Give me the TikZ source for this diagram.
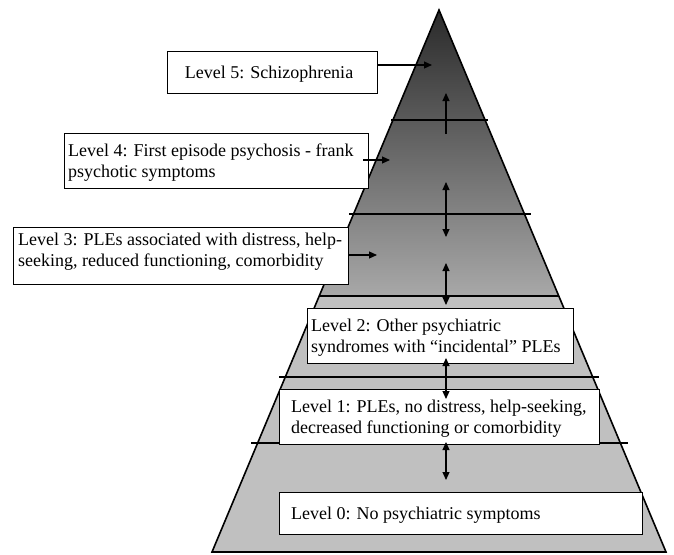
\documentclass[tikz,border=0pt]{standalone}
\usepackage{fontspec}
\setmainfont{Liberation Serif}
\usetikzlibrary{arrows.meta,calc}
\definecolor{topgray}{HTML}{2A2A2A}
\definecolor{midgray}{HTML}{A8A8A8}
\definecolor{basegray}{HTML}{C0C0C0}
\begin{document}
\begin{tikzpicture}[x=1pt,y=-1pt,
  lvbox/.style={draw=black,line width=1.1pt,fill=white,inner sep=0pt,anchor=north west},
  lvtext/.style={anchor=base west,align=left,inner sep=0pt,font=\fontsize{18}{20.5}\selectfont},
  arr/.style={line width=1.1pt,-{Triangle[length=8pt,width=7pt]}},
  darr/.style={line width=1.1pt,{Triangle[length=8pt,width=7pt]}-{Triangle[length=8pt,width=7pt]}},
  sepline/.style={line width=1.1pt}]
\useasboundingbox (0,0) rectangle (674,554);
% pyramid
\coordinate (apex) at (439,10);
\coordinate (bl) at (212,552);
\coordinate (br) at (666,552);
\coordinate (ml) at ($(apex)!0.5277!(bl)$);
\coordinate (mr) at ($(apex)!0.5277!(br)$);
\shade[top color=topgray, bottom color=midgray] (apex) -- (ml) -- (mr) -- cycle;
\fill[basegray] (ml) -- (bl) -- (br) -- (mr) -- cycle;
% separators
\coordinate (s1a) at (391,120); \coordinate (s1b) at (488,120);
\coordinate (s2a) at (349,214); \coordinate (s2b) at (531,214);
\coordinate (s4a) at (279,377); \coordinate (s4b) at (599,377);
\coordinate (s5a) at (251,443); \coordinate (s5b) at (628,443);
\draw[sepline] (s1a) -- (s1b);
\draw[sepline] (s2a) -- (s2b);
\draw[sepline] (ml) -- (mr);
\draw[sepline] (s4a) -- (s4b);
\draw[sepline] (s5a) -- (s5b);
\draw[line width=1.6pt,line join=miter] (apex) -- (bl) -- (br) -- cycle;
% boxes
\node[lvbox,minimum width=210pt,minimum height=42pt] (l5) at (167,51) {};
\node[lvbox,minimum width=304pt,minimum height=55pt] (l4) at (64,133) {};
\node[lvbox,minimum width=335pt,minimum height=57pt] (l3) at (13,227) {};
\node[lvbox,minimum width=266pt,minimum height=55pt] (l2) at (307,308) {};
\node[lvbox,minimum width=320pt,minimum height=55pt] (l1) at (279,389) {};
\node[lvbox,minimum width=363pt,minimum height=42pt] (l0) at (279,492) {};
% texts (base anchor = baseline of last line)
\node[lvtext,anchor=base] (t5) at (269,78) {Level 5: Schizophrenia};
\node[lvtext] (t4) at (68,177) {Level 4: First episode psychosis - frank\\psychotic symptoms};
\node[lvtext] (t3) at (18,266) {Level 3: PLEs associated with distress, help-\\seeking, reduced functioning, comorbidity};
\node[lvtext] (t2) at (311,352) {Level 2: Other psychiatric\\syndromes with “incidental” PLEs};
\node[lvtext] (t1) at (291,433) {Level 1: PLEs, no distress, help-seeking,\\decreased functioning or comorbidity};
\node[lvtext] (t0) at (291,519) {Level 0: No psychiatric symptoms};
% horizontal arrows
\coordinate (h5) at (432,65);
\coordinate (h4) at (390,160);
\coordinate (h3) at (377,255);
\draw[arr] (l5.east |- h5) -- (h5);
\draw[arr] ($(l4.east |- h4)+(-6,0)$) -- (h4);
\draw[arr] (l3.east |- h3) -- (h3);
% vertical arrows
\coordinate (v5a) at (446,134); \coordinate (v5b) at (446,93);
\coordinate (v4a) at (446,182); \coordinate (v4b) at (446,237);
\coordinate (v3a) at (446,263); \coordinate (v3b) at (446,305);
\coordinate (v2a) at (446,358); \coordinate (v2b) at (446,399);
\coordinate (v1a) at (446,442); \coordinate (v1b) at (446,480);
\draw[arr] (v5a) -- (v5b);
\draw[darr] (v4a) -- (v4b);
\draw[darr] (v3a) -- (v3b);
\draw[darr] (v2a) -- (v2b);
\draw[darr] (v1a) -- (v1b);
\end{tikzpicture}
\end{document}
